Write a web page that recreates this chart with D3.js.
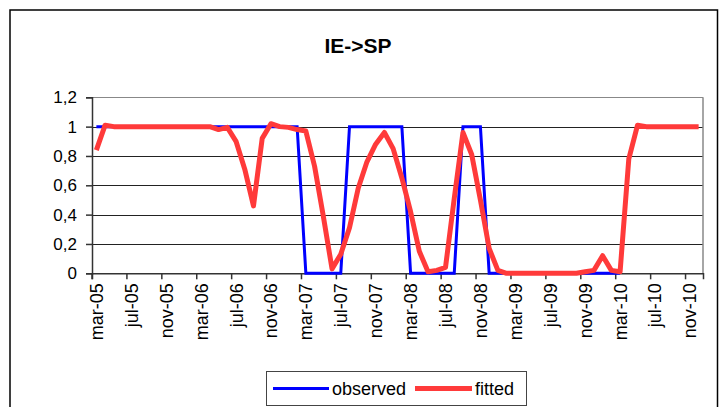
<!DOCTYPE html>
<html>
<head>
<meta charset="utf-8">
<script src="https://cdn.jsdelivr.net/npm/d3@7"></script>
<style>
  body { margin: 0; background: #fff; }
  svg { display: block; font-family: "Liberation Sans", Arial, sans-serif; }
</style>
</head>
<body>
<script>
var monthNames = ["jan", "feb", "mar", "apr", "may", "jun", "jul", "aug", "sep", "oct", "nov", "dec"];
var years = ["05", "06", "07", "08", "09", "10"];

// categories: mar-05 .. dec-10
var months = [];
years.forEach(function (y, yi) {
    monthNames.forEach(function (m, mi) {
        if (yi === 0 && mi < 2) return;
        months.push(m + "-" + y);
    });
});

var yTicks = [0, 0.2, 0.4, 0.6, 0.8, 1, 1.2];

// observed ends in early 2010 (no blue line visible afterwards)
var observed = [
    1, 1, 1, 1, 1, 1, 1, 1, 1, 1, 1, 1, 1, 1, 1, 1, 1, 1, 1, 1, 1, 1, 1, 1,
    0, 0, 0, 0, 0,
    1, 1, 1, 1, 1, 1, 1,
    0, 0, 0, 0, 0, 0,
    1, 1, 1,
    0, 0, 0, 0, 0, 0, 0, 0, 0, 0, 0, 0, 0, 0, 0, 0,
    null, null, null, null, null, null, null, null, null
];

var fitted = [
    0.84, 1.01, 1, 1, 1, 1, 1, 1, 1, 1, 1, 1, 1, 1, 0.98, 0.995,
    0.90, 0.71, 0.46, 0.92, 1.02, 1, 0.995, 0.98, 0.97,
    0.73, 0.39, 0.03, 0.13, 0.31, 0.58, 0.76, 0.88, 0.96,
    0.85, 0.65, 0.42, 0.15, 0.01, 0.02, 0.04,
    0.51, 0.96, 0.81, 0.50, 0.17, 0.02,
    0, 0, 0, 0, 0, 0, 0, 0, 0,
    0.01, 0.02, 0.12, 0.02, 0.01, 0.78, 1.01,
    1, 1, 1, 1, 1, 1, 1
];

var W = 726, H = 407;
var plot = { left: 92, right: 703, top: 97.3, bottom: 273.3 };

var svg = d3.select("body")
    .append("svg")
    .attr("width", W)
    .attr("height", H);

// chart frame
svg.append("rect")
    .attr("x", 10).attr("y", 10)
    .attr("width", 707.5).attr("height", 420)
    .attr("fill", "#fff")
    .attr("stroke", "#000")
    .attr("stroke-width", 1.5);

// title
svg.append("text")
    .text("IE->SP")
    .attr("x", 358)
    .attr("y", 53)
    .attr("text-anchor", "middle")
    .style("font-weight", "bold")
    .style("font-size", "21px");

// Escalas
var xScale = d3.scaleBand()
    .domain(months)
    .range([plot.left, plot.right])
    .padding(0);

var xPos = function (d, i) { return xScale(months[i]) + xScale.bandwidth() / 2; };

var yScale = d3.scaleLinear()
    .domain([0, 1.2])
    .range([plot.bottom, plot.top]);

// grid lines
svg.append("g")
    .selectAll("line")
    .data(yTicks.slice(1))
    .enter()
    .append("line")
    .attr("x1", plot.left)
    .attr("x2", plot.right)
    .attr("y1", d => Math.round(yScale(d)) + 0.5)
    .attr("y2", d => Math.round(yScale(d)) + 0.5)
    .attr("stroke", d => d === 1.2 ? "#888" : "#222")
    .attr("stroke-width", 1);

// right border of plot area
svg.append("line")
    .attr("x1", plot.right).attr("x2", plot.right)
    .attr("y1", plot.top).attr("y2", plot.bottom)
    .attr("stroke", "#888")
    .attr("stroke-width", 1.5);

// Eixo Y
var yAxis = svg.append("g")
    .attr("transform", "translate(" + plot.left + ",0)")
    .call(d3.axisLeft(yScale)
        .tickValues(yTicks)
        .tickSize(6)
        .tickPadding(9)
        .tickFormat(d => String(d).replace(".", ",")));
yAxis.selectAll("text")
    .style("font-size", "17px")
    .attr("fill", "#000");
yAxis.selectAll("line, path").attr("stroke", "#333").attr("stroke-width", 1.5);

// Eixo X: tick marks at category boundaries every 4 months
var boundaries = xScale.domain().filter((d, i) => i % 4 === 0);
var xTicks = svg.append("g")
    .attr("transform", "translate(0," + plot.bottom + ")")
    .call(d3.axisBottom(xScale)
        .tickValues(boundaries)
        .tickSize(6)
        .tickFormat(""));
xTicks.selectAll(".tick").attr("transform", d => "translate(" + xScale(d) + ",0)");
xTicks.selectAll("line, path").attr("stroke", "#333").attr("stroke-width", 1.5);

// rótulos do eixo x (no centro das categorias)
svg.append("g")
    .selectAll("text")
    .data(boundaries)
    .enter()
    .append("text")
    .text(d => d)
    .attr("transform", d => "translate(" + (xScale(d) + xScale.bandwidth() / 2 + 6.5) + "," + (plot.bottom + 10) + ") rotate(-90)")
    .attr("text-anchor", "end")
    .style("font-size", "18px");

// séries
var line = d3.line()
    .defined(d => d !== null)
    .x(xPos)
    .y(d => yScale(d));

svg.append("path")
    .datum(observed)
    .attr("d", line)
    .attr("fill", "none")
    .attr("stroke", "#0000ff")
    .attr("stroke-width", 3)
    .attr("stroke-linejoin", "miter");

svg.append("path")
    .datum(fitted)
    .attr("d", line)
    .attr("fill", "none")
    .attr("stroke", "#ff3a3a")
    .attr("stroke-width", 5)
    .attr("stroke-linejoin", "round");

// legenda
var legend = svg.append("g");
legend.append("rect")
    .attr("x", 266.5).attr("y", 371.5)
    .attr("width", 260).attr("height", 34)
    .attr("fill", "#fff")
    .attr("stroke", "#444")
    .attr("stroke-width", 1);

var legendItems = [
    { name: "observed", color: "#0000ff", width: 3, x: 273, len: 56 },
    { name: "fitted", color: "#ff3a3a", width: 5, x: 415, len: 57 }
];
legend.selectAll("line")
    .data(legendItems)
    .enter()
    .append("line")
    .attr("x1", d => d.x)
    .attr("x2", d => d.x + d.len)
    .attr("y1", 388.5)
    .attr("y2", 388.5)
    .attr("stroke", d => d.color)
    .attr("stroke-width", d => d.width);
legend.selectAll("text")
    .data(legendItems)
    .enter()
    .append("text")
    .text(d => d.name)
    .attr("x", d => d.x + d.len + 3)
    .attr("y", 395)
    .style("font-size", "18px");
</script>
</body>
</html>
